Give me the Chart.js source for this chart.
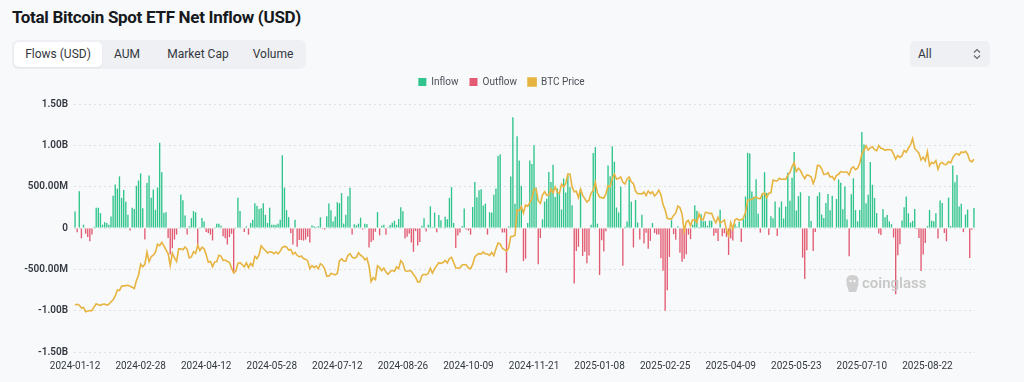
<!DOCTYPE html>
<html>
<head>
<meta charset="utf-8">
<script src="https://cdn.jsdelivr.net/npm/chart.js@4.4.1/dist/chart.umd.min.js"></script>
<style>
  html,body{margin:0;padding:0;background:#f8f9fa;width:1024px;height:382px;overflow:hidden;font-family:Roboto,"Noto Sans",sans-serif;}
  #title{position:absolute;left:12px;top:7px;font-size:17px;font-weight:700;color:#161a1e;letter-spacing:-0.3px;}
  #tabs{position:absolute;left:12px;top:40px;width:294px;height:29px;background:#eef0f3;border-radius:6px;}
  .tab{position:absolute;top:2px;height:25px;line-height:25px;font-size:12px;color:#33373d;text-align:center;}
  .tab.active{background:#fff;border-radius:5px;box-shadow:0 1px 2px rgba(0,0,0,0.05);}
  #sel{position:absolute;left:910px;top:41px;width:80px;height:26px;background:#eef0f3;border-radius:5px;font-size:12px;color:#33373d;}
  #sel span{position:absolute;left:8px;top:6px;}
  #sel svg{position:absolute;left:63px;top:7px;}
  #wrap{position:absolute;left:0;top:66px;width:1024px;height:316px;}
  #wm{position:absolute;left:845px;top:274px;height:20px;color:#c8c8c8;font-size:15px;font-weight:600;}
  #wm span{position:absolute;left:17px;top:0px;}
</style>
</head>
<body>
<div id="title">Total Bitcoin Spot ETF Net Inflow (USD)</div>
<div id="tabs">
  <div class="tab active" style="left:2px;width:88px;">Flows (USD)</div>
  <div class="tab" style="left:96px;width:38px;">AUM</div>
  <div class="tab" style="left:148px;width:76px;">Market Cap</div>
  <div class="tab" style="left:234px;width:54px;">Volume</div>
</div>
<div id="sel"><span>All</span>
  <svg width="8" height="12" viewBox="0 0 8 12"><path d="M1 4.5 L4 1.5 L7 4.5 M1 7.5 L4 10.5 L7 7.5" fill="none" stroke="#666" stroke-width="1.2"/></svg>
</div>
<div id="wrap"><canvas id="c"></canvas></div>
<div id="wm">
  <svg width="15" height="19" viewBox="0 0 15 19" style="position:absolute;left:0;top:0"><path d="M7.5 1 C3 1 1 4 1.5 7 C2 9 1 10 2 12 C3 14 3 16 4 18 L11 18 C12 16 12 14 13 12 C14 10 13 9 13.5 7 C14 4 12 1 7.5 1 Z" fill="#cfcfcf"/><circle cx="5.5" cy="7" r="1.2" fill="#f8f9fa"/><circle cx="9.5" cy="7" r="1.2" fill="#f8f9fa"/></svg>
  <span>coinglass</span>
</div>
<script>
// ---- DATA ----
const startDate = '2024-01-12';
const marketHolidays = ['2024-01-15','2024-02-19','2024-03-29','2024-05-27','2024-06-19','2024-07-04','2024-09-02','2024-11-28','2024-12-25','2025-01-01','2025-01-09','2025-01-20','2025-02-17','2025-04-18','2025-05-26','2025-06-19','2025-07-04','2025-09-01'];
const tickLabels = ['2024-01-12','2024-02-28','2024-04-12','2024-05-28','2024-07-12','2024-08-26','2024-10-09','2024-11-21','2025-01-08','2025-02-25','2025-04-09','2025-05-23','2025-07-10','2025-08-22'];

// daily net flow, USD millions (trading days)
const netFlowM = [
  200,-50,445,-125,40,-70,-110,-160,-80,15,245,245,180,                                   // 2024-01
  40,70,60,40,140,390,525,475,625,365,460,318,160,-30,245,230,510,575,660,240,             // 2024-02
  -140,545,635,365,465,220,490,1030,675,185,190,-120,-320,-245,-140,-80,10,405,337,150,    // 2024-03
  -80,20,120,206,190,-218,10,120,80,-48,-60,-80,-150,10,50,50,28,-100,-125,-200,-110,-70, // 2024-04
  -550,10,365,206,10,-48,20,-80,60,100,300,270,230,240,300,160,60,245,40,40,40,50,         // 2024-05
  100,880,488,217,131,-65,-200,100,-226,-145,-146,-152,-140,-106,-175,31,21,11,20,         // 2024-06
  129,-13,-20,143,295,216,78,140,310,301,422,53,160,384,486,-78,44,31,52,124,-18,50,       // 2024-07
  45,-237,-168,-148,-45,192,-89,27,39,-81,11,35,62,88,39,110,252,202,-127,-105,-71,-175,   // 2024-08
  -288,-37,-211,-169,28,117,-43,39,263,13,187,-52,158,93,4,136,106,365,494,61,             // 2024-09
  -243,-92,-55,25,235,-18,-30,-81,253,556,371,458,470,273,295,-80,190,188,402,479,870,893,-54, // 2024-10
  -54,-541,20,622,1340,294,1110,817,510,-400,-371,60,816,773,1000,490,-438,-122,105,320,   // 2024-11
  353,676,556,766,376,479,439,223,597,428,637,494,276,-672,-278,-227,475,-338,-288,-427,-333, // 2024-12
  40,908,978,52,-568,-149,-284,-40,755,626,990,802,248,188,500,-458,15,80,588,319,         // 2025-01
  -235,340,66,-140,159,-186,-56,-251,-156,60,-60,-80,-80,-365,-516,-1000,-754,-350,94,     // 2025-02
  -74,-143,22,-300,-409,-371,-317,-80,-135,40,275,209,11,165,83,84,27,89,89,-93,-60,       // 2025-03
  -157,220,-99,-64,-109,-326,-127,-150,50,15,76,-169,107,381,910,900,442,380,591,173,-56,  // 2025-04
  422,675,425,-85,142,117,321,-96,250,320,115,260,667,329,608,920,211,385,432,-358,-616,   // 2025-05
  -268,387,86,-278,-48,386,431,164,120,301,412,216,389,6,350,588,548,226,501,102,          // 2025-06
  -342,407,601,216,80,218,1160,1010,300,403,799,523,363,180,-68,-86,227,131,157,80,47,-115, // 2025-07
  -800,-330,-196,91,250,380,178,66,87,231,-14,-122,-520,-320,-180,23,219,88,81,179,-127,   // 2025-08
  333,301,-60,-160,368,23,757,553,642,260,293,-50,163,223,-363,-20,241                     // 2025-09
];

// BTC price, USD thousands (same trading days)
const btcPriceK = [
  42.8,43.1,42.7,41.3,41.6,39.5,39.8,40.1,40.0,41.8,43.3,42.9,42.6,
  43.1,43.2,42.7,43.1,44.3,45.3,47.1,50.0,49.7,51.8,52.0,52.1,52.3,51.8,51.3,50.7,54.5,57.1,62.5,61.2,
  62.4,68.3,63.8,66.1,66.9,68.3,72.1,71.5,73.1,71.4,69.4,67.6,61.9,67.9,65.5,63.8,69.9,69.9,69.5,70.8,
  69.7,65.5,66.0,68.5,67.8,71.6,69.1,70.6,70.0,67.1,63.4,63.8,61.3,63.5,63.8,66.8,66.4,64.3,64.5,63.8,63.4,60.6,
  58.3,59.1,62.9,63.2,62.3,61.2,63.1,60.8,62.9,61.6,66.3,65.2,67.0,71.4,70.1,69.1,67.9,68.5,68.4,67.6,68.4,67.5,
  68.8,70.6,71.1,70.8,69.3,69.6,67.3,68.2,66.8,66.0,66.5,65.2,64.9,64.1,60.3,61.8,60.9,61.6,60.3,
  62.7,62.0,60.2,56.7,56.7,58.0,57.7,57.3,58.0,64.1,65.1,64.1,64.0,66.7,67.6,65.9,65.4,65.8,68.0,66.8,66.2,64.6,
  65.4,61.5,54.0,56.0,55.0,61.7,60.9,59.4,60.6,58.7,57.6,58.9,59.5,59.0,61.2,60.4,64.2,62.9,59.5,59.0,59.4,59.1,
  57.5,56.2,53.9,53.9,57.0,57.6,57.3,58.1,60.5,58.2,60.3,61.8,63.2,62.9,63.3,64.3,63.1,65.2,65.8,63.3,
  60.8,60.6,60.8,62.1,62.3,62.1,60.6,60.3,62.4,66.0,67.0,67.6,67.4,68.4,67.4,67.4,66.7,68.2,66.6,69.9,72.7,72.3,70.2,
  69.5,68.8,70.2,75.9,75.9,76.5,88.7,88.3,90.4,87.3,91.1,90.5,92.3,94.3,98.9,98.9,93.1,91.9,95.9,97.5,
  95.9,96.0,98.8,97.0,99.9,97.4,96.7,101.2,100.0,101.5,106.1,106.1,100.0,97.5,97.8,94.7,98.7,95.8,94.2,92.6,93.4,
  96.9,98.1,102.1,96.9,95.0,94.7,94.5,96.5,100.5,99.9,104.1,106.1,103.7,104.0,104.7,102.1,101.3,103.7,104.7,102.4,
  101.4,97.9,96.6,96.6,96.5,97.4,95.7,97.9,96.6,97.5,95.5,96.6,98.3,96.1,91.4,88.7,84.7,84.4,84.4,
  86.1,87.2,90.6,89.9,86.7,78.5,82.9,83.7,81.1,84.0,84.0,82.7,86.8,84.2,84.0,87.5,87.5,86.9,87.2,84.4,82.5,
  85.2,82.5,83.1,83.8,79.2,76.3,82.6,79.6,84.0,84.5,83.7,84.0,84.9,87.5,93.4,93.7,93.9,94.7,95.0,94.3,94.2,
  96.5,96.9,94.7,96.8,97.0,103.2,102.9,102.8,104.1,103.5,103.7,103.5,105.6,106.8,109.7,111.7,107.3,108.9,107.8,105.6,103.9,
  105.7,105.4,104.7,101.5,104.3,110.3,110.2,108.7,105.9,106.0,106.8,104.6,104.9,103.3,105.5,106.0,107.3,107.0,107.1,107.1,
  105.7,108.8,109.6,108.2,108.9,111.3,115.9,117.5,119.8,117.7,118.8,119.3,117.9,117.4,119.9,118.6,118.3,117.6,118.0,117.9,117.8,115.8,
  113.3,115.1,114.1,115.0,117.5,116.7,118.7,120.2,123.3,118.4,117.4,116.2,112.9,114.3,112.5,116.9,110.1,111.8,111.2,112.6,108.4,
  111.2,111.7,110.7,110.7,112.1,111.5,113.9,115.5,116.0,115.3,116.8,116.5,117.1,115.7,112.7,112.0,113.3
];

// ---- categories: trading days from startDate ----
function tradingDays(start, n) {
  const out = [];
  const d = new Date(start + 'T00:00:00Z');
  while (out.length < n) {
    const wd = d.getUTCDay();
    const s = d.toISOString().slice(0, 10);
    if (wd !== 0 && wd !== 6 && !marketHolidays.includes(s)) out.push(s);
    d.setUTCDate(d.getUTCDate() + 1);
  }
  return out;
}
const dates = tradingDays(startDate, netFlowM.length);
const inflow = netFlowM.map(v => v > 0 ? v : null);
const outflow = netFlowM.map(v => v < 0 ? v : null);

const GREEN = '#2ec48c', RED = '#e35b72', GOLD = '#e7b441';

function fmt(v) {
  if (v === 0) return '0';
  if (Math.abs(v) >= 1000) return (v / 1000).toFixed(2) + 'B';
  return v.toFixed(2) + 'M';
}

const legendTweak = {
  id: 'legendTweak',
  beforeInit(chart) {
    const lg = chart.legend;
    if (!lg) return;
    const origFit = lg.fit;
    lg.fit = function () { origFit.call(this); this.height += 7; };
  },
  afterLayout(chart) {
    const lg = chart.legend;
    if (lg) { lg.left += 14; lg.right += 14; }
  }
};

new Chart(document.getElementById('c'), {
  type: 'bar',
  data: {
    labels: dates,
    datasets: [
      { label: 'Inflow', data: inflow, backgroundColor: GREEN, borderWidth: 0, grouped: false,
        categoryPercentage: 1, barPercentage: 0.64, yAxisID: 'y', order: 1 },
      { label: 'Outflow', data: outflow, backgroundColor: RED, borderWidth: 0, grouped: false,
        categoryPercentage: 1, barPercentage: 0.64, yAxisID: 'y', order: 1 },
      { type: 'line', label: 'BTC Price', data: btcPriceK, borderColor: GOLD, backgroundColor: GOLD,
        borderWidth: 1.6, pointRadius: 0, tension: 0, yAxisID: 'y1', order: -1 }
    ]
  },
  plugins: [legendTweak],
  options: {
    responsive: true,
    maintainAspectRatio: false,
    animation: false,
    layout: { padding: { left: 0, right: 49, top: 0, bottom: 2 } },
    plugins: {
      tooltip: { enabled: false },
      legend: {
        position: 'top',
        labels: {
          boxWidth: 8, boxHeight: 8, padding: 11,
          color: '#4a4f57', font: { family: 'Roboto', size: 10 },
          sort: (a, b) => a.datasetIndex - b.datasetIndex
        }
      }
    },
    scales: {
      x: {
        type: 'category',
        offset: true,
        grid: { display: false, drawTicks: false },
        border: { display: false },
        ticks: {
          autoSkip: false, maxRotation: 0, minRotation: 0, padding: 8,
          color: '#333840', font: { family: 'Roboto', size: 10 },
          callback: function (v) { const l = this.getLabelForValue(v); return tickLabels.includes(l) ? l : ''; }
        }
      },
      y: {
        min: -1500, max: 1500,
        ticks: { stepSize: 500, padding: 6, color: '#333840', font: { family: 'Roboto', size: 10, weight: '600' }, callback: v => fmt(v) },
        grid: { color: 'rgba(0,0,0,0.10)', drawTicks: false, lineWidth: 1 },
        border: { display: false, dash: [2, 3] },
        afterFit: s => { s.width = 74; }
      },
      y1: { display: false, min: 20, max: 140 }
    }
  }
});
</script>
</body>
</html>
